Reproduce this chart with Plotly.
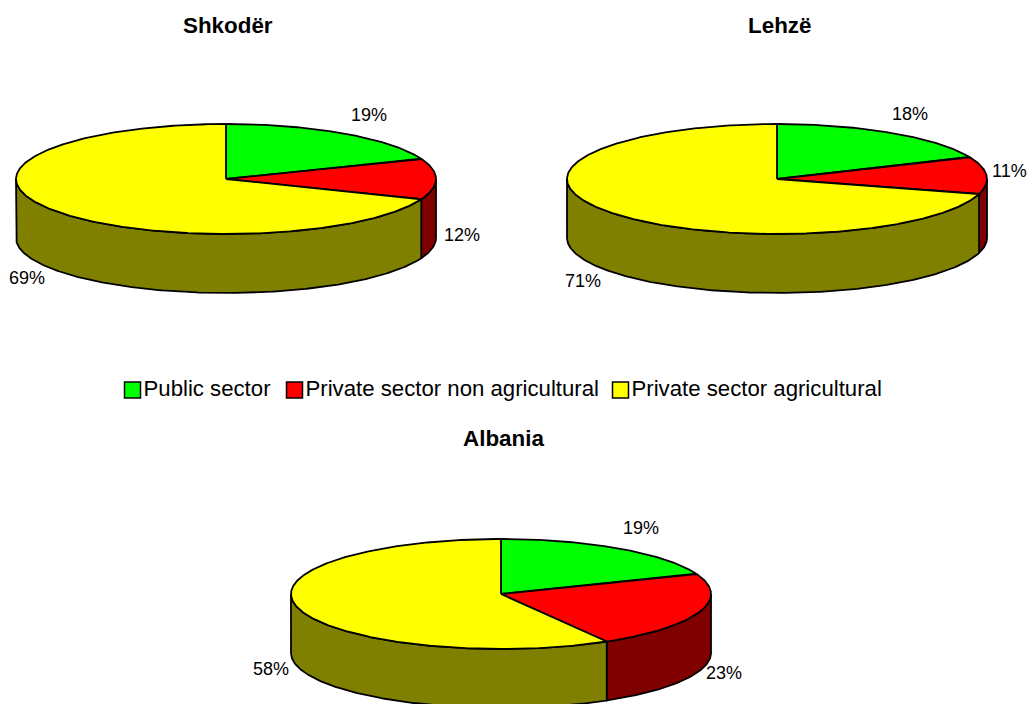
import numpy as np
import plotly.graph_objects as go

categories = ["Public sector", "Private sector non agricultural", "Private sector agricultural"]
regions = ["Shkodër", "Lehzë", "Albania"]
shkoder_values = [19, 12, 69]
lehze_values = [18.4, 11.0, 70.6]
albania_values = [19, 22.6, 58.4]

top_colors = ["#00FF00", "#FF0000", "#FFFF00"]
side_colors = ["#008000", "#800000", "#808000"]

RX, RY, DEPTH = 210, 55, 59
pies = [
    (shkoder_values, 226, 179, 228, 25, [(369, 115), (462, 235), (27, 278)]),
    (lehze_values, 777, 179, 779, 25, [(910, 114), (1009, 171), (583, 281)]),
    (albania_values, 501, 594, 503, 438, [(641, 528), (724, 673), (271, 669)]),
]
legend_x = [132.5, 294.5, 620.5]
legend_y = 390
FONT = "Liberation Sans, Arial, sans-serif"

fig = go.Figure()


def arc(cx, cy, a1, a2):
    t = np.radians(np.linspace(a1, a2, max(int(abs(a2 - a1)) * 2, 2)))
    return cx + RX * np.sin(t), cy - RY * np.cos(t)


def poly(xs, ys, color):
    fig.add_trace(go.Scatter(x=xs, y=ys, mode="lines", fill="toself", fillcolor=color,
                             line=dict(color="#000000", width=1.8), hoverinfo="skip",
                             showlegend=False))


annotations = []
for (values, cx, cy, title_x, title_y, label_pos), name in zip(pies, regions):
    edges = np.concatenate([[0], np.cumsum(values)]) * 3.6
    for i in range(len(values)):
        a1, a2 = max(edges[i], 90), min(edges[i + 1], 270)
        if a2 > a1:
            x, y = arc(cx, cy, a1, a2)
            poly(np.concatenate([x, x[::-1]]).tolist() + [x[0]],
                 np.concatenate([y, y[::-1] + DEPTH]).tolist() + [y[0]], side_colors[i])
    for i in range(len(values)):
        x, y = arc(cx, cy, edges[i], edges[i + 1])
        poly([cx] + x.tolist() + [cx], [cy] + y.tolist() + [cy], top_colors[i])
    annotations.append(dict(x=title_x, y=title_y, text=f"<b>{name}</b>", showarrow=False,
                            font=dict(family=FONT, size=22.4, color="#000000")))
    for v, (lx, ly) in zip(values, label_pos):
        annotations.append(dict(x=lx, y=ly, text=f"{v:.0f}%", showarrow=False,
                                font=dict(family=FONT, size=18, color="#000000")))

for cat, lx, color in zip(categories, legend_x, top_colors):
    fig.add_trace(go.Scatter(x=[lx], y=[legend_y], mode="markers+text", text=[cat],
                             textposition="middle right",
                             textfont=dict(family=FONT, size=22.2, color="#000000"),
                             marker=dict(symbol="square", size=16, color=color,
                                         line=dict(color="#000000", width=1.5)),
                             hoverinfo="skip", showlegend=False))

fig.update_layout(
    width=1027, height=704, margin=dict(l=0, r=0, t=0, b=0),
    paper_bgcolor="#FFFFFF", plot_bgcolor="#FFFFFF", showlegend=False,
    xaxis=dict(range=[0, 1027], visible=False, fixedrange=True),
    yaxis=dict(range=[704, 0], visible=False, fixedrange=True),
    annotations=annotations,
)
fig.write_html("out.html", config={"displayModeBar": False},
               post_script="document.body.style.margin='0';document.body.style.overflow='hidden';")
